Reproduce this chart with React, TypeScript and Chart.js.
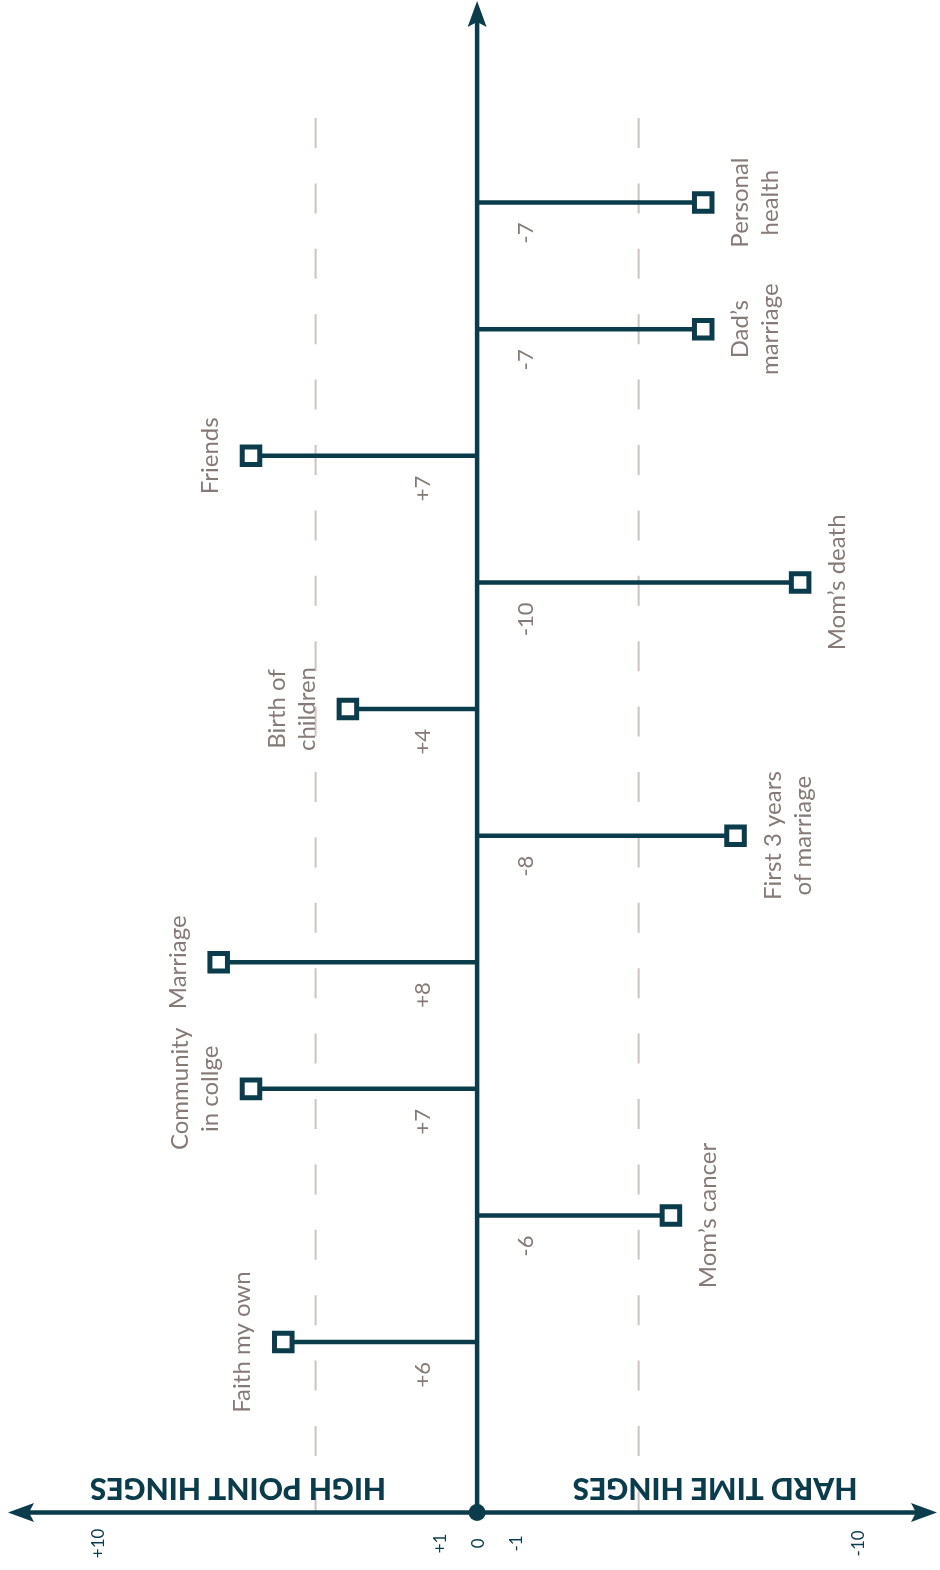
import React, { useEffect, useRef } from "react";
import { Chart, registerables } from "chart.js";

Chart.register(...registerables);

// ---------- data ----------
// events in chronological order (bottom of the timeline first)
const eventLabels: string[][] = [
  ["Faith my own"],
  ["Mom’s cancer"],
  ["Community", "in collge"],
  ["Marriage"],
  ["First 3 years", "of marriage"],
  ["Birth of", "children"],
  ["Mom’s death"],
  ["Friends"],
  ["Dad’s", "marriage"],
  ["Personal", "health"],
];
const eventScores: number[] = [6, -6, 7, 8, -8, 4, -10, 7, -7, -7];
const eventOrder: number[] = [1, 2, 3, 4, 5, 6, 7, 8, 9, 10];

const tickValues: number[] = [10, 1, 0, -1, -10];
const tickLabels: string[] = ["+10", "+1", "0", "-1", "-10"];
const guideValues: number[] = [5, -5];
const sideTitles: string[] = ["HIGH POINT HINGES", "HARD TIME HINGES"];

// ---------- styles ----------
const TEAL = "#0b3c4c";
const TEXT = "#857a75";
const GUIDE = "#cbc4c1";
const LABEL_FONT = "400 24px Lato, 'Open Sans', sans-serif";
const VALUE_FONT = "400 22px Lato, 'Open Sans', sans-serif";
const TICK_FONT = "400 17px Lato, 'Open Sans', sans-serif";
const TITLE_FONT = "900 30px Lato, 'Open Sans', sans-serif";
const AXIS_BASE = -0.345; // y value where the horizontal axis sits

const fmt = (v: number) => (v > 0 ? "+" + v : String(v));

const decor = {
  id: "decor",
  beforeDatasetsDraw(chart: any) {
    const { ctx, chartArea: a, scales } = chart;
    const xs = scales.x;
    const ys = scales.y;
    const x0 = xs.getPixelForValue(0);
    const axisY = ys.getPixelForValue(AXIS_BASE);
    ctx.save();
    // dashed guides
    ctx.strokeStyle = GUIDE;
    ctx.lineWidth = 2;
    ctx.setLineDash([30, 35.4]);
    guideValues.forEach((v) => {
      const gx = xs.getPixelForValue(v);
      ctx.beginPath();
      ctx.moveTo(gx, a.top + 118);
      ctx.lineTo(gx, axisY);
      ctx.stroke();
    });
    ctx.setLineDash([]);

    // axes
    ctx.strokeStyle = TEAL;
    ctx.fillStyle = TEAL;
    ctx.lineWidth = 4.5;
    const topTip = a.top + 1;
    const leftTip = a.left + 8;
    const rightTip = a.right - 3;
    ctx.beginPath();
    ctx.moveTo(x0, axisY);
    ctx.lineTo(x0, topTip + 20);
    ctx.stroke();
    ctx.beginPath();
    ctx.moveTo(leftTip + 20, axisY);
    ctx.lineTo(rightTip - 20, axisY);
    ctx.stroke();

    // arrowheads
    ctx.beginPath();
    ctx.moveTo(x0, topTip);
    ctx.lineTo(x0 + 9.5, topTip + 26);
    ctx.lineTo(x0, topTip + 21);
    ctx.lineTo(x0 - 9.5, topTip + 26);
    ctx.closePath();
    ctx.fill();

    ctx.beginPath();
    ctx.moveTo(leftTip, axisY);
    ctx.lineTo(leftTip + 26, axisY - 9.5);
    ctx.lineTo(leftTip + 21, axisY);
    ctx.lineTo(leftTip + 26, axisY + 9.5);
    ctx.closePath();
    ctx.fill();

    ctx.beginPath();
    ctx.moveTo(rightTip, axisY);
    ctx.lineTo(rightTip - 26, axisY - 9.5);
    ctx.lineTo(rightTip - 21, axisY);
    ctx.lineTo(rightTip - 26, axisY + 9.5);
    ctx.closePath();
    ctx.fill();
    ctx.restore();
  },
  afterDatasetsDraw(chart: any) {
    const { ctx, scales } = chart;
    const xs = scales.x;
    const ys = scales.y;
    const xt = scales.xt;
    const x0 = xs.getPixelForValue(0);
    const axisY = ys.getPixelForValue(AXIS_BASE);
    ctx.save();

    // origin dot
    ctx.fillStyle = TEAL;
    ctx.beginPath();
    ctx.arc(x0, axisY, 8.5, 0, Math.PI * 2);
    ctx.fill();

    // value and event labels
    eventScores.forEach((v, i) => {
      const py = ys.getPixelForValue(eventOrder[i]);
      const px = xs.getPixelForValue(v);
      const pos = v > 0;

      // value label
      ctx.save();
      ctx.translate(pos ? x0 - 47 : x0 + 56, py + 20);
      ctx.rotate(-Math.PI / 2);
      ctx.font = VALUE_FONT;
      ctx.fillStyle = TEXT;
      ctx.textAlign = "right";
      ctx.textBaseline = "alphabetic";
      ctx.fillText(fmt(v), 0, 0);
      ctx.restore();

      // event label
      const lines = eventLabels[i];
      ctx.save();
      ctx.translate(px, py);
      ctx.rotate(-Math.PI / 2);
      ctx.font = LABEL_FONT;
      ctx.fillStyle = TEXT;
      ctx.textAlign = "center";
      ctx.textBaseline = "alphabetic";
      lines.forEach((ln, j) => {
        const off = pos ? -33 - 30 * (lines.length - 1 - j) : 45 + 30 * j;
        ctx.fillText(ln, 0, off);
      });
      ctx.restore();
    });

    // tick labels
    tickValues.forEach((v, i) => {
      ctx.save();
      ctx.translate(xt.getPixelForValue(v), axisY + 31);
      ctx.rotate(-Math.PI / 2);
      ctx.font = TICK_FONT;
      ctx.fillStyle = TEAL;
      ctx.textAlign = "center";
      ctx.textBaseline = "middle";
      ctx.fillText(tickLabels[i], 0, 0);
      ctx.restore();
    });

    // side titles (upside down)
    const centers = [x0 - 239, x0 + 238];
    sideTitles.forEach((t, i) => {
      ctx.save();
      ctx.translate(centers[i], axisY - 34);
      ctx.rotate(Math.PI);
      ctx.font = TITLE_FONT;
      ctx.fillStyle = TEAL;
      ctx.textAlign = "center";
      ctx.textBaseline = "alphabetic";
      ctx.fillText(t, 0, 0);
      ctx.restore();
    });

    ctx.restore();
  },
};

export default function App() {
  const ref = useRef<HTMLCanvasElement | null>(null);
  useEffect(() => {
    if (!ref.current) return;
    const chart = new Chart(ref.current, {
      type: "scatter",
      data: {
        datasets: eventScores.map((v, i) => ({
          data: [
            { x: 0, y: eventOrder[i] },
            { x: v, y: eventOrder[i] },
          ],
          showLine: true,
          borderColor: TEAL,
          borderWidth: 4.5,
          pointStyle: "rect",
          pointRadius: [0, 12.4],
          pointHoverRadius: [0, 12.4],
          pointBackgroundColor: "#ffffff",
          pointBorderColor: TEAL,
          pointBorderWidth: 5,
          clip: false as any,
        })),
      },
      options: {
        animation: false,
        responsive: true,
        maintainAspectRatio: false,
        events: [],
        layout: { padding: 0, autoPadding: false },
        plugins: { legend: { display: false }, tooltip: { enabled: false } },
        scales: {
          x: { type: "linear", min: -14.33, max: 14.77, reverse: true, display: false },
          y: { type: "linear", min: -0.8, max: 11.6, display: false },
          xt: {
            type: "linear",
            axis: "x",
            position: "bottom",
            min: -12.15,
            max: 12.58,
            reverse: true,
            display: false,
          },
        } as any,
      } as any,
      plugins: [decor as any],
    });
    return () => chart.destroy();
  }, []);

  return (
    <div style={{ position: "absolute", left: 0, top: 0, width: 940, height: 1570, background: "#fff" }}>
      <canvas ref={ref} />
    </div>
  );
}
